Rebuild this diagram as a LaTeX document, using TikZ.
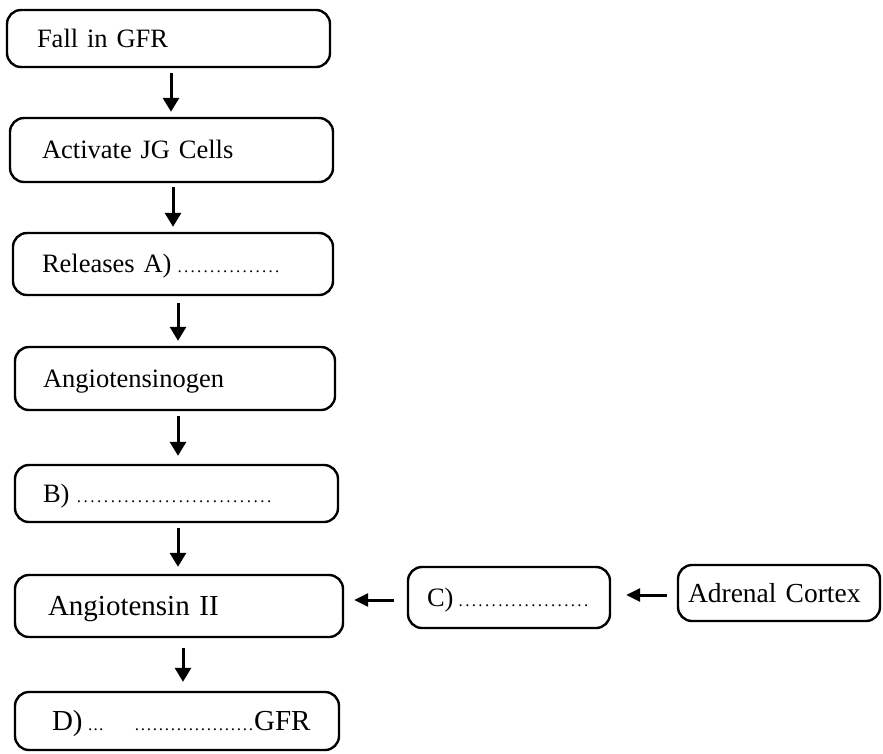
\documentclass[tikz,border=0pt]{standalone}
\usepackage{fontspec}
\setmainfont{Liberation Serif}
\usetikzlibrary{arrows.meta}
\newcount\dotcnt
\newcommand\dotrow[2]{{\fontsize{17}{17}\selectfont\dotcnt=0 \loop\hbox to #2{\hss.\hss}\advance\dotcnt by 1 \ifnum\dotcnt<#1\repeat}}
\tikzset{
  box/.style={draw, line width=2.4pt, rounded corners=14pt, align=left,
    inner ysep=0pt, text height=17.5pt, text depth=0pt,
    font=\fontsize{26.5}{30}\selectfont},
  arr/.style={line width=3pt, -{Triangle[width=16pt,length=14pt]}},
  harr/.style={line width=3pt, -{Triangle[width=13pt,length=14pt]}}
}
\begin{document}
\begin{tikzpicture}[x=1pt,y=-1pt]
\useasboundingbox (0,0) rectangle (883,753);
\node[box, minimum width=323pt, minimum height=57pt, inner xsep=30pt, text width=263pt] (f) at (168.5,38.5) {Fall in GFR};
\node[box, minimum width=323pt, minimum height=64pt, inner xsep=32pt, text width=259pt] (a) at (171.5,150) {Activate JG Cells};
\node[box, minimum width=320pt, minimum height=62pt, inner xsep=29pt, text width=262pt] (r) at (173,264) {\mbox{Releases A)\hspace{5pt}\dotrow{16}{6.5pt}}};
\node[box, minimum width=320pt, minimum height=63pt, inner xsep=28pt, text width=264pt] (g) at (175,378.5) {Angiotensinogen};
\node[box, minimum width=323pt, minimum height=57pt, inner xsep=28pt, text width=267pt] (b) at (176.5,493.5) {\mbox{B)\hspace{6pt}\dotrow{29}{6.8pt}}};
\node[box, minimum width=328pt, minimum height=62pt, inner xsep=33pt, text width=262pt, text height=19pt, font=\fontsize{29}{33}\selectfont] (ii) at (179,606) {Angiotensin II};
\node[box, minimum width=324pt, minimum height=58pt, inner xsep=37pt, text width=250pt, text height=19pt, font=\fontsize{29}{33}\selectfont] (d) at (177,721) {\mbox{D)\hspace{5pt}\dotrow{3}{5.5pt}\hspace{30pt}\dotrow{20}{6pt}GFR}};
\node[box, minimum width=202pt, minimum height=61pt, inner xsep=19pt, text width=164pt] (c) at (509,597.5) {\mbox{C)\hspace{4pt}\dotrow{20}{6.6pt}}};
\node[box, minimum width=202pt, minimum height=56pt, inner xsep=10pt, text width=182pt, text height=18pt, font=\fontsize{27.5}{31}\selectfont] (ac) at (779,593) {Adrenal Cortex};
\draw[arr, shorten <=5pt, shorten >=5pt] ([xshift=2.5pt]f.south) -- ([xshift=2.5pt]f.south |- a.north);
\draw[arr, shorten <=4pt, shorten >=5pt] ([xshift=1.5pt]a.south) -- ([xshift=1.5pt]a.south |- r.north);
\draw[arr, shorten <=7pt, shorten >=5pt] ([xshift=5pt]r.south) -- ([xshift=5pt]r.south |- g.north);
\draw[arr, shorten <=5pt, shorten >=8pt] ([xshift=3pt]g.south) -- ([xshift=3pt]g.south |- b.north);
\draw[arr, shorten <=5pt, shorten >=7pt] ([xshift=1.5pt]b.south) -- ([xshift=1.5pt]b.south |- ii.north);
\draw[arr, shorten <=10pt, shorten >=9pt] ([xshift=4pt]ii.south) -- ([xshift=4pt]ii.south |- d.north);
\draw[harr, shorten <=13pt, shorten >=10pt] ([yshift=-2.5pt]c.west) -- ([yshift=-2.5pt]c.west -| ii.east);
\draw[harr, shorten <=10pt, shorten >=15pt] ([yshift=-2pt]ac.west) -- ([yshift=-2pt]ac.west -| c.east);
\end{tikzpicture}
\end{document}
